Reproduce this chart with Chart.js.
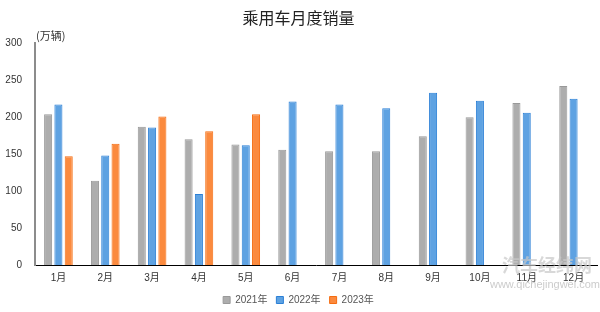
<!DOCTYPE html>
<html>
<head>
<meta charset="utf-8">
<script src="https://cdn.jsdelivr.net/npm/chart.js@4.4.0/dist/chart.umd.min.js"></script>
<style>
  html, body { margin: 0; padding: 0; background: #fff; }
  #wrap { width: 600px; height: 312px; }
</style>
</head>
<body>
<div id="wrap"><canvas id="chart" width="600" height="312"></canvas></div>
<script>
const months = ["1月", "2月", "3月", "4月", "5月", "6月", "7月", "8月", "9月", "10月", "11月", "12月"];
const sales2021 = [204, 114, 187, 170, 163, 156, 154, 154, 174, 200, 219, 242];
const sales2022 = [217, 148, 186, 96, 162, 221, 217, 212, 233, 222, 206, 225];
const sales2023 = [147, 164, 201, 181, 204, null, null, null, null, null, null, null];
const yTicks = [0, 50, 100, 150, 200, 250, 300];

const fontFamily = '"Liberation Sans", "Noto Sans CJK SC", sans-serif';

// unit label and watermark
const extras = {
    id: 'extras',
    afterDraw(chart) {
        const ctx = chart.ctx;
        const area = chart.chartArea;
        ctx.save();
        ctx.fillStyle = '#333';
        ctx.font = '11px "Noto Sans CJK SC", sans-serif';
        ctx.textAlign = 'left';
        ctx.textBaseline = 'middle';
        ctx.fillText('(万辆)', area.left + 1, area.top - 7);

        ctx.fillStyle = 'rgba(200,200,200,0.7)';
        ctx.font = 'bold 18px "Noto Sans CJK SC", sans-serif';
        ctx.textAlign = 'center';
        ctx.fillText('汽车经纬网', 547, 265);
        ctx.font = '11px "Liberation Sans", sans-serif';
        ctx.fillStyle = 'rgba(190,190,190,0.8)';
        ctx.fillText('www.qichejingwei.com', 545, 285);
        ctx.restore();
    }
};

const ctx = document.getElementById('chart').getContext('2d');
new Chart(ctx, {
    type: 'bar',
    data: {
        labels: months,
        datasets: [
            { label: '2021年', data: sales2021, backgroundColor: '#adadad', borderColor: '#999999', borderWidth: 1 },
            { label: '2022年', data: sales2022, backgroundColor: '#5ea2e2', borderColor: '#2a7fd6', borderWidth: 1 },
            { label: '2023年', data: sales2023, backgroundColor: '#fb8a3e', borderColor: '#f56c10', borderWidth: 1 }
        ]
    },
    options: {
        responsive: false,
        animation: false,
        devicePixelRatio: 1,
        categoryPercentage: 0.66,
        barPercentage: 0.78,
        layout: { padding: { left: 0, right: 3, top: 0, bottom: -3 } },
        scales: {
            x: {
                afterFit: scale => { scale.height -= 5; },
                grid: { display: false, drawTicks: false },
                border: { display: true, color: '#000', width: 1 },
                ticks: { color: '#333', padding: 7, font: { family: fontFamily, size: 10 }, maxRotation: 0 }
            },
            y: {
                min: 0,
                max: 300,
                afterBuildTicks: scale => { scale.ticks = yTicks.map(v => ({ value: v })); },
                afterFit: scale => { scale.width = 35; },
                grid: { display: false, drawTicks: false },
                border: { display: true, color: '#8c8c8c', width: 2 },
                ticks: { color: '#333', padding: 13, font: { family: fontFamily, size: 10 } }
            }
        },
        plugins: {
            title: {
                display: true,
                text: '乘用车月度销量',
                color: '#222',
                font: { family: '"Noto Sans CJK SC", sans-serif', size: 16, weight: 'normal' },
                padding: { top: 8, bottom: 16 }
            },
            legend: {
                position: 'bottom',
                labels: {
                    boxWidth: 7,
                    boxHeight: 7,
                    color: '#555',
                    padding: 9,
                    font: { family: fontFamily, size: 10 }
                }
            },
            tooltip: { enabled: false }
        }
    },
    plugins: [extras]
});
</script>
</body>
</html>
